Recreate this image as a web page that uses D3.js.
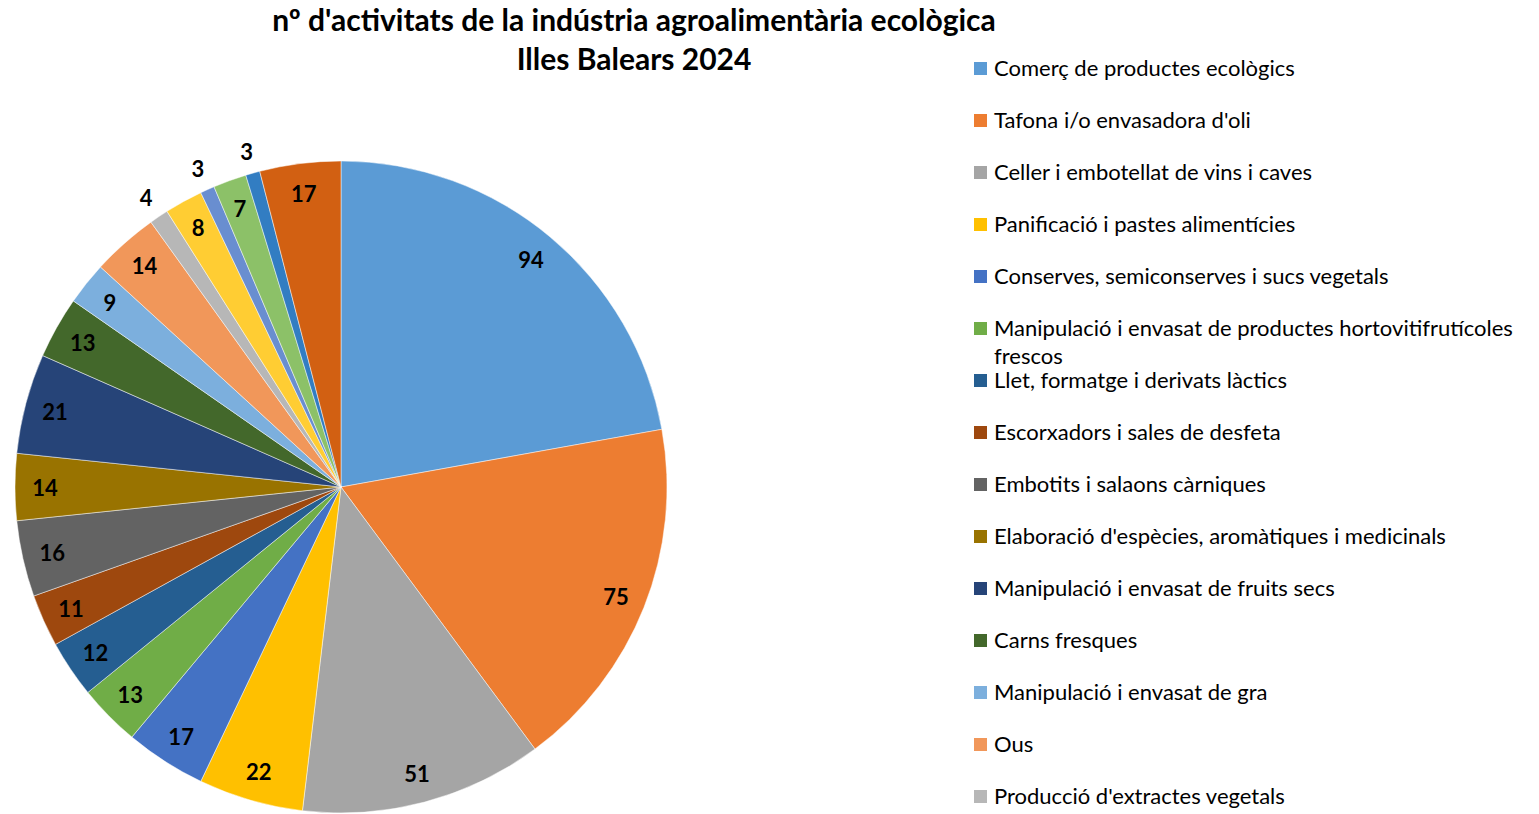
<!DOCTYPE html>
<html>
<head>
<meta charset="utf-8">
<script src="https://cdn.jsdelivr.net/npm/d3@7"></script>
<style>
  html, body { margin: 0; padding: 0; background: #fff; }
  svg { display: block; }
</style>
</head>
<body>
<svg id="chart" width="1539" height="814"></svg>
<script>
// Activity categories (legend order = slice order, clockwise from 12 o'clock)
const categories = [
  "Comerç de productes ecològics",
  "Tafona i/o envasadora d'oli",
  "Celler i embotellat de vins i caves",
  "Panificació i pastes alimentícies",
  "Conserves, semiconserves i sucs vegetals",
  "Manipulació i envasat de productes hortovitifrutícoles frescos",
  "Llet, formatge i derivats làctics",
  "Escorxadors i sales de desfeta",
  "Embotits i salaons càrniques",
  "Elaboració d'espècies, aromàtiques i medicinals",
  "Manipulació i envasat de fruits secs",
  "Carns fresques",
  "Manipulació i envasat de gra",
  "Ous",
  "Producció d'extractes vegetals",
  "Elaboració de pinsos",
  "Elaboració de mel",
  "Elaboració de begudes",
  "Fabricació de sucre i xocolata",
  "Altres activitats"
];

// Number of activities per category
const values = [94, 75, 51, 22, 17, 13, 12, 11, 16, 14, 21, 13, 9, 14, 4, 8, 3, 7, 3, 17];

// Office-style palette: accents, darker accents, lighter accents, then darker again
const colors = [
  "#5b9bd5", "#ed7d31", "#a5a5a5", "#ffc000", "#4472c4", "#70ad47",
  "#255e91", "#9e480e", "#636363", "#997300", "#264478", "#43682b",
  "#7cafdd", "#f1975a", "#b7b7b7", "#ffcd33", "#698ed0", "#8cc168",
  "#327dc2", "#d26012"
];

const titleLines = ["nº d'activitats de la indústria agroalimentària ecològica", "Illes Balears 2024"];

const W = 1539, H = 814;
const svg = d3.select("#chart");
const FONT = "Lato, 'Noto Sans', sans-serif";

// Title
svg.append("g")
  .selectAll("text")
  .data(titleLines)
  .join("text")
  .attr("x", 634)
  .attr("y", (d, i) => 31 + i * 39)
  .attr("text-anchor", "middle")
  .style("font-family", FONT)
  .style("font-weight", "bold")
  .style("font-size", "30px")
  .style("fill", "#000")
  .text(d => d);

// Pie
const cx = 341, cy = 487, R = 326;
const data = categories.map((c, i) => ({ name: c, value: values[i], color: colors[i] }));

const pie = d3.pie().sort(null).value(d => d.value).startAngle(0).endAngle(2 * Math.PI);
const arcs = pie(data);
const arc = d3.arc().innerRadius(0).outerRadius(R);
const inLabel = d3.arc().innerRadius(296).outerRadius(296);
const outLabel = d3.arc().innerRadius(349).outerRadius(349);

const g = svg.append("g").attr("transform", `translate(${cx},${cy})`);

g.selectAll("path")
  .data(arcs)
  .join("path")
  .attr("d", arc)
  .attr("fill", d => d.data.color)
  .attr("stroke", "#ffffff")
  .attr("stroke-opacity", 0.6)
  .attr("stroke-width", 0.8);

// Value labels: small slices get their label outside the rim
g.selectAll("text")
  .data(arcs)
  .join("text")
  .attr("transform", d => `translate(${(d.data.value <= 4 ? outLabel : inLabel).centroid(d)})`)
  .attr("text-anchor", "middle")
  .attr("dominant-baseline", "central")
  .style("font-family", FONT)
  .style("font-weight", "bold")
  .style("font-size", "22px")
  .style("fill", "#000")
  .text(d => d.data.value);

// Legend: entries are listed only while they fit in the chart height
const legendTop = 68, rowStep = 52;
const legendData = data.filter((d, i) => legendTop + i * rowStep + 14 <= H);
const legend = svg.append("g").attr("transform", `translate(974,${legendTop})`);
const maxLegendWidth = 545;

const items = legend.selectAll("g")
  .data(legendData)
  .join("g")
  .attr("transform", (d, i) => `translate(0,${i * rowStep})`);

items.append("rect")
  .attr("x", 0)
  .attr("y", -6)
  .attr("width", 13)
  .attr("height", 13)
  .attr("fill", d => d.color);

items.append("text")
  .attr("x", 20)
  .attr("y", -1)
  .attr("dominant-baseline", "central")
  .style("font-family", FONT)
  .style("font-size", "22px")
  .style("fill", "#000")
  .each(function(d) {
    // wrap long entries onto a second line
    const t = d3.select(this);
    const words = d.name.split(" ");
    let line = [];
    let tspan = t.append("tspan").attr("x", 20).attr("dy", 0);
    for (const w of words) {
      line.push(w);
      tspan.text(line.join(" "));
      if (tspan.node().getComputedTextLength() > maxLegendWidth && line.length > 1) {
        line.pop();
        tspan.text(line.join(" "));
        line = [w];
        tspan = t.append("tspan").attr("x", 20).attr("dy", 28).text(w);
      }
    }
  });
</script>
</body>
</html>
